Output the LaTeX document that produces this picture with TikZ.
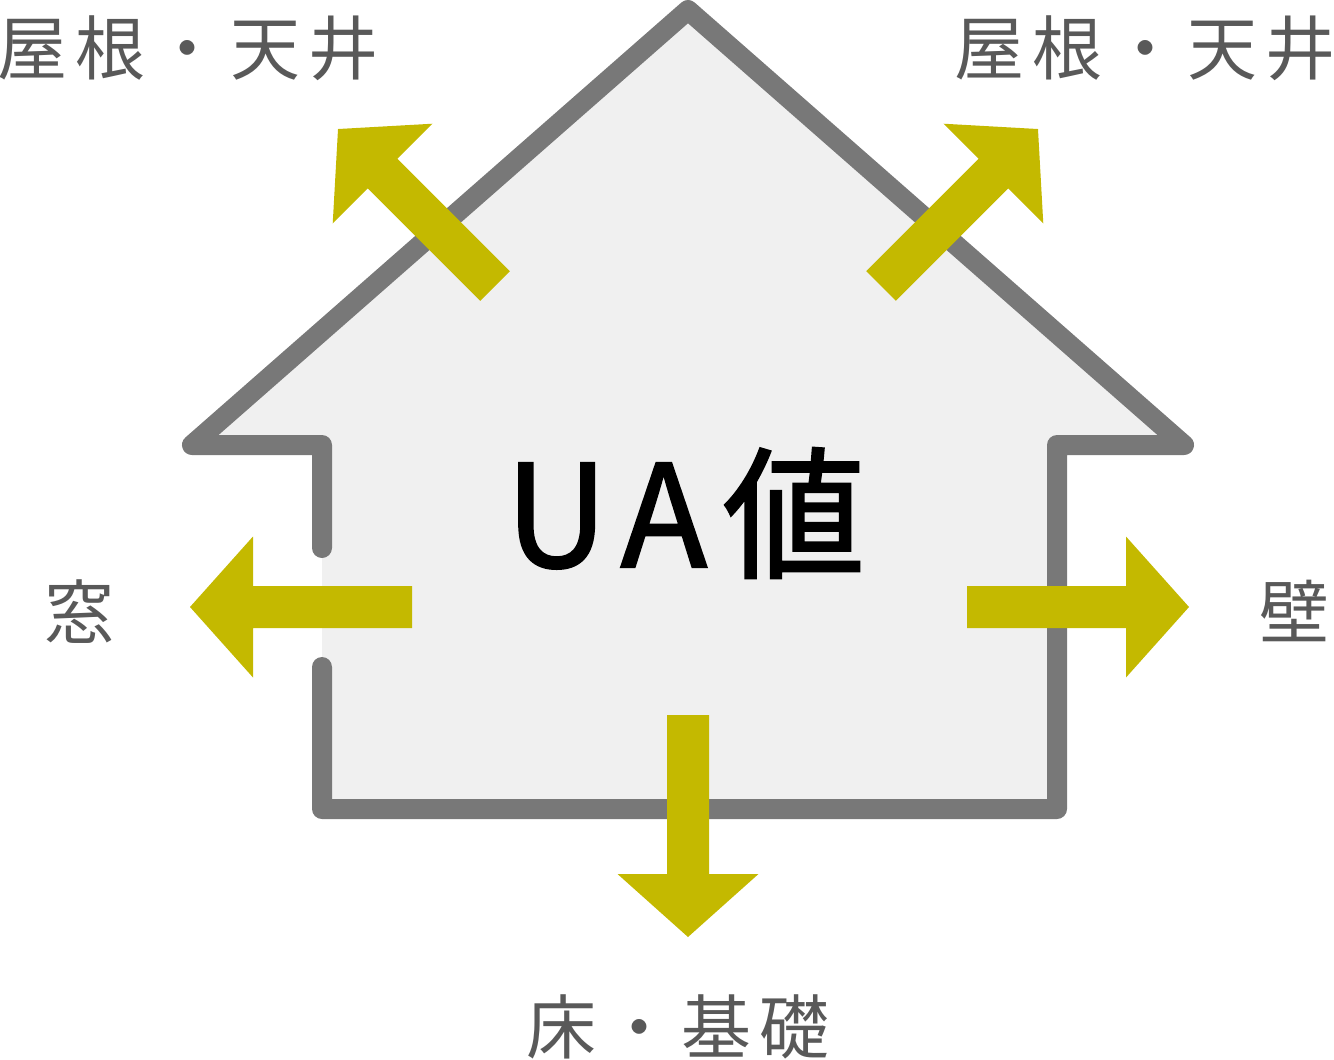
\documentclass[tikz,border=0pt]{standalone}
\usepackage{fontspec}
\newfontfamily\jpfont[LetterSpace=11]{Noto Sans CJK JP}
\newfontfamily\uafont[LetterSpace=11,FakeBold=1.6]{Noto Sans CJK JP}
\usetikzlibrary{calc}
\definecolor{wallgray}{RGB}{120,120,120}
\definecolor{roomfill}{RGB}{240,240,240}
\definecolor{heatyellow}{RGB}{196,185,0}
\definecolor{labelgray}{RGB}{89,89,89}
\tikzset{
  wall/.style={draw=wallgray,line width=10,line cap=round,line join=round},
  label/.style={inner sep=0,text=labelgray,font=\jpfont\fontsize{35}{35}\selectfont},
}
% heat-loss arrow: tail at #1, pointing at angle #2
\newcommand{\heatarrow}[2]{%
  \fill[heatyellow,shift={#1},rotate=#2]
    (0,21) -- (159,21) -- (159,70.5) -- (222,0) -- (159,-70.5) -- (159,-21) -- (0,-21) -- cycle;}

\begin{document}
\begin{tikzpicture}[x=0.5pt,y=-0.5pt]
  \useasboundingbox (0,0) rectangle (1334,1060);
  % house outline points
  \coordinate (apex) at (688,10);
  \coordinate (eaveL) at (192,445);
  \coordinate (eaveR) at (1184,445);
  \coordinate (cornerL) at (322,445);
  \coordinate (cornerR) at (1057,445);
  \coordinate (footL) at (322,809);
  \coordinate (footR) at (1057,809);
  \coordinate (winTop) at (322,548);
  \coordinate (winBot) at (322,667);
  % room
  \fill[roomfill] (apex) -- (eaveR) -- (cornerR) -- (footR) -- (footL) -- (cornerL) -- (eaveL) -- cycle;
  % walls, with the window left open
  \draw[wall] (winTop) -- (cornerL) -- (eaveL) -- (apex) -- (eaveR) -- (cornerR) -- (footR) -- (footL) -- (winBot);
  % arrows
  \heatarrow{(495,286)}{135}
  \heatarrow{(881,286)}{45}
  \heatarrow{(412,607)}{180}
  \heatarrow{(967,607)}{0}
  \heatarrow{(688,715)}{-90}
  % labels
  \node[anchor=west,inner sep=0,font=\uafont\fontsize{71}{71}\selectfont] (ua) at (505,513) {UA値};
  \node[label,anchor=west] (roofL) at (-3,48) {屋根・天井};
  \node[label,anchor=east] (roofR) at (1336,48) {屋根・天井};
  \node[label] (window) at (80,612) {窓};
  \node[label] (wallR) at (1294,611) {壁};
  \node[label] (floor) at (678,1027) {床・基礎};
\end{tikzpicture}
\end{document}
